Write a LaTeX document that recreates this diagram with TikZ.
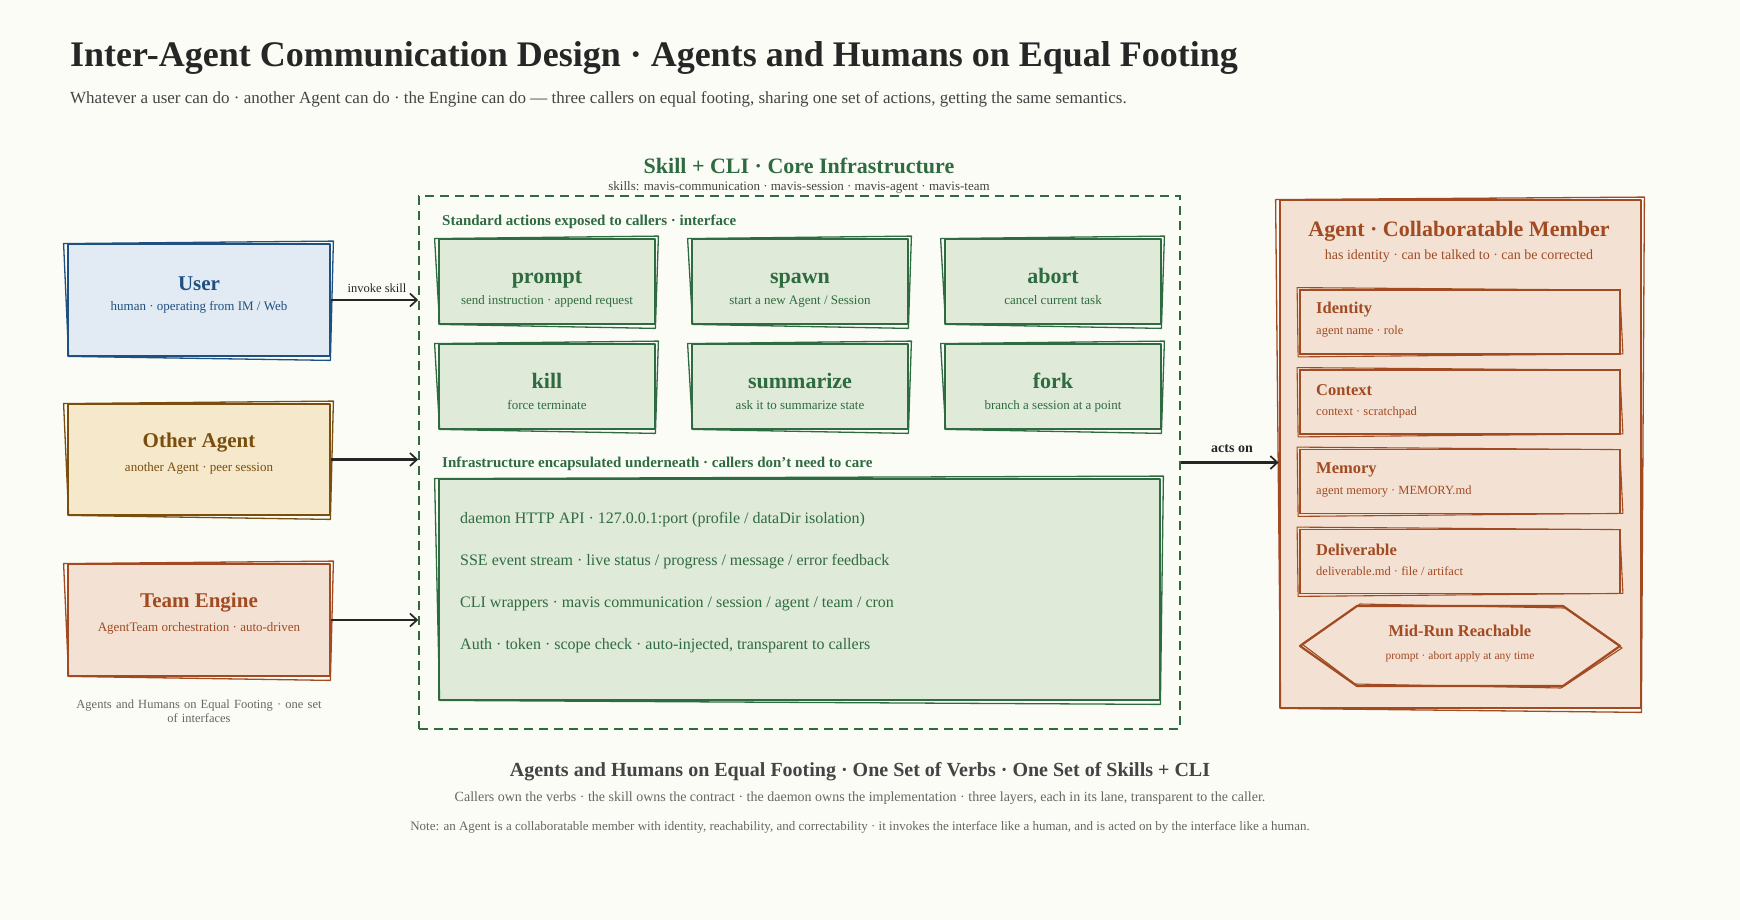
\documentclass[tikz,border=0pt]{standalone}
\usepackage{fontspec}
\setmainfont{Liberation Serif}
\usetikzlibrary{arrows.meta,calc}
\definecolor{bg}{HTML}{FCFCF7}
\definecolor{ublue}{HTML}{1F5082}
\definecolor{ubfill}{HTML}{E2EAF3}
\definecolor{obrown}{HTML}{7A4E0E}
\definecolor{ofill}{HTML}{F5E8CB}
\definecolor{rust}{HTML}{A24A22}
\definecolor{rfill}{HTML}{F3E2D4}
\definecolor{gdark}{HTML}{2F6B40}
\definecolor{gfill}{HTML}{DFEAD9}
\definecolor{ink}{HTML}{262626}
\definecolor{ink2}{HTML}{444444}
\definecolor{gray6}{HTML}{666666}
\newcommand\fsz[1]{\fontsize{#1}{#1}\selectfont}
\newcommand\sketchit[2]{%
  \draw[#2, line width=1.3, line join=round]
    ($(#1.north west)+(-3,1)$) -- ($(#1.north east)+(2,-1.5)$) --
    ($(#1.south east)+(-1,3)$) -- ($(#1.south west)+(2,-1)$) -- cycle;}
\newcommand\sketchin[2]{%
  \draw[#2, line width=1.1, line join=round]
    ($(#1.north west)+(-2,-1.5)$) -- ($(#1.north east)+(-1,1)$) --
    ($(#1.south east)+(2,-1)$) -- ($(#1.south west)+(-1,2)$) -- cycle;}
\tikzset{
  x=1pt, y=-1pt,
  txt/.style={inner sep=0pt, align=center},
  boxb/.style={draw, line width=2.8, line join=round, inner sep=0pt},
  arr/.style={draw=ink, line width=2.2, -{Straight Barb[length=7pt,width=13pt,line width=1.7pt]}},
}
\begin{document}
\begin{tikzpicture}
\useasboundingbox[fill=bg] (0,0) rectangle (1740,920);

% title
\node[txt, anchor=west, text=ink, font=\fsz{36}\bfseries] (title) at (70,58) {Inter-Agent Communication Design · Agents and Humans on Equal Footing};
\node[txt, anchor=west, text=ink2, font=\fsz{17}] (subtitle) at (70,99) {Whatever a user can do · another Agent can do · the Engine can do — three callers on equal footing, sharing one set of actions, getting the same semantics.};

% callers
\node[boxb, draw=ublue, fill=ubfill, minimum width=262, minimum height=112] (user) at (199,300) {};
\sketchit{user}{ublue}
\node[txt, text=ublue, font=\fsz{21}\bfseries] (userT) at (199,284) {User};
\node[txt, text=ublue, font=\fsz{13}] (userS) at (199,307) {human · operating from IM / Web};

\node[boxb, draw=obrown, fill=ofill, minimum width=262, minimum height=111] (other) at (199,459.5) {};
\sketchit{other}{obrown}
\node[txt, text=obrown, font=\fsz{21}\bfseries] (otherT) at (199,443) {Other Agent};
\node[txt, text=obrown, font=\fsz{13}] (otherS) at (199,468) {another Agent · peer session};

\node[boxb, draw=rust, fill=rfill, minimum width=262, minimum height=112] (team) at (199,620) {};
\sketchit{team}{rust}
\node[txt, text=rust, font=\fsz{21}\bfseries] (teamT) at (199,603) {Team Engine};
\node[txt, text=rust, font=\fsz{13}] (teamS) at (199,628) {AgentTeam orchestration · auto-driven};

\node[txt, text=gray6, font=\fsz{12.5}, text width=262] (caption) at (199,711) {Agents and Humans on Equal Footing · one set\\[2pt] of interfaces};

% core container
\node[txt, text=gdark, font=\fsz{22}\bfseries] (coreT) at (799,166) {Skill + CLI · Core Infrastructure};
\node[txt, text=ink2, font=\fsz{13}] (coreS) at (799,187) {skills: mavis-communication · mavis-session · mavis-agent · mavis-team};
\node[draw=gdark, line width=1.6, dash pattern=on 9pt off 6pt, minimum width=761, minimum height=533, inner sep=0pt] (core) at (799.5,462.5) {};

\node[txt, anchor=west, text=gdark, font=\fsz{15}\bfseries] (stdL) at (442,222) {Standard actions exposed to callers · interface};

\foreach \n/\cx/\cy/\t/\s in {
  prompt/547/281.5/prompt/{send instruction · append request},
  spawn/800/281.5/spawn/{start a new Agent / Session},
  abort/1053/281.5/abort/{cancel current task},
  kill/547/386.5/kill/{force terminate},
  summ/800/386.5/summarize/{ask it to summarize state},
  fork/1053/386.5/fork/{branch a session at a point}}{
  \node[boxb, draw=gdark, fill=gfill, minimum width=216, minimum height=85] (\n) at (\cx,\cy) {};
  \sketchit{\n}{gdark}
  \node[txt, anchor=base, text=gdark, font=\fsz{22}\bfseries] (\n T) at (\cx,\cy+2) {\t};
  \node[txt, anchor=base, text=gdark, font=\fsz{13}] (\n S) at (\cx,\cy+23) {\s};
}

\node[txt, anchor=west, text=gdark, font=\fsz{15}\bfseries] (infL) at (442,464) {Infrastructure encapsulated underneath · callers don’t need to care};
\node[boxb, draw=gdark, fill=gfill, minimum width=721, minimum height=221] (infra) at (799.5,589.5) {};
\sketchit{infra}{gdark}
\node[txt, anchor=west, text=gdark, font=\fsz{16}] (inf1) at (460,520) {daemon HTTP API · 127.0.0.1:port (profile / dataDir isolation)};
\node[txt, anchor=west, text=gdark, font=\fsz{16}] (inf2) at (460,562) {SSE event stream · live status / progress / message / error feedback};
\node[txt, anchor=west, text=gdark, font=\fsz{16}] (inf3) at (460,604) {CLI wrappers · mavis communication / session / agent / team / cron};
\node[txt, anchor=west, text=gdark, font=\fsz{16}] (inf4) at (460,646) {Auth · token · scope check · auto-injected, transparent to callers};

% agent
\node[boxb, draw=rust, fill=rfill, minimum width=361, minimum height=508] (agent) at (1460.5,454) {};
\sketchit{agent}{rust}
\node[txt, text=rust, font=\fsz{22}\bfseries] (agentT) at (1459,231) {Agent · Collaboratable Member};
\node[txt, text=rust, font=\fsz{14}] (agentS) at (1459,256) {has identity · can be talked to · can be corrected};

\foreach \n/\cy/\t/\s in {
  ident/322/Identity/{agent name · role},
  ctx/402/Context/{context · scratchpad},
  mem/481.5/Memory/{agent memory · MEMORY.md},
  deliv/561.5/Deliverable/{deliverable.md · file / artifact}}{
  \node[draw=rust, line width=1.8, fill=rfill, minimum width=320, minimum height=64, inner sep=0pt] (\n) at (1460,\cy) {};
  \sketchin{\n}{rust}
  \node[txt, anchor=west, text=rust, font=\fsz{16.5}\bfseries] (\n T) at (1316,\cy-12) {\t};
  \node[txt, anchor=west, text=rust, font=\fsz{12.5}] (\n S) at (1316,\cy+10) {\s};
}

\coordinate (hexL) at (1300,646);
\coordinate (hexR) at (1620,646);
\draw[rust, line width=2.2, line join=round, fill=rfill] (hexL) -- (1357,606) -- (1563,606) -- (hexR) -- (1563,686) -- (1357,686) -- cycle;
\draw[rust, line width=1.1, line join=round] (1302,644) -- (1360,604) -- (1565,608) -- (1622,648) -- (1561,688) -- (1355,684) -- cycle;
\node[txt, text=rust, font=\fsz{16.5}\bfseries] (midT) at (1460,631) {Mid-Run Reachable};
\node[txt, text=rust, font=\fsz{11.5}] (midS) at (1460,657) {prompt · abort apply at any time};

% connectors
\draw[arr] (user.east) -- (user.east -| core.west);
\node[txt, fill=bg, inner sep=2pt, text=ink, font=\fsz{12.5}] (invL) at (377,288) {invoke skill};
\draw[arr] (other.east) -- (other.east -| core.west);
\draw[arr] (team.east) -- (team.east -| core.west);
\draw[arr] (core.east) -- (core.east -| agent.west);
\node[txt, text=ink, font=\fsz{14}\bfseries] (actsL) at (1232,449) {acts on};

% bottom
\node[txt, text=ink2, font=\fsz{20}\bfseries] (botT) at (860,772) {Agents and Humans on Equal Footing · One Set of Verbs · One Set of Skills + CLI};
\node[txt, text=gray6, font=\fsz{14}] (botS) at (860,798) {Callers own the verbs · the skill owns the contract · the daemon owns the implementation · three layers, each in its lane, transparent to the caller.};
\node[txt, text=gray6, font=\fsz{13}] (botN) at (860,827) {Note: an Agent is a collaboratable member with identity, reachability, and correctability · it invokes the interface like a human, and is acted on by the interface like a human.};
\end{tikzpicture}
\end{document}
